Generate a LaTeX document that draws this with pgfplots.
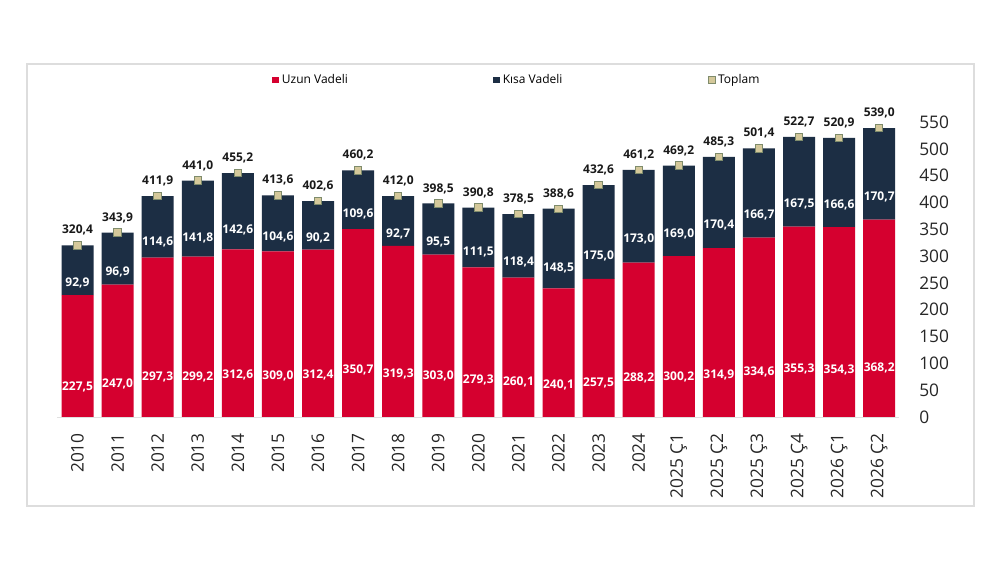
\documentclass[border=0pt]{standalone}
\usepackage{pgfplots}
\pgfplotsset{compat=1.18}
\usepackage{pgfplotstable}
\usepackage{fontspec}
\setmainfont{Open Sans}
\definecolor{uzun}{HTML}{D5002F}
\definecolor{kisa}{HTML}{1C2E44}
\definecolor{topfill}{HTML}{D4C89A}
\definecolor{topdraw}{HTML}{7F8C6C}
\definecolor{framec}{HTML}{DDDDDD}

\pgfplotstableread{
x u k t
0 227.5 92.9 320.4
1 247.0 96.9 343.9
2 297.3 114.6 411.9
3 299.2 141.8 441.0
4 312.6 142.6 455.2
5 309.0 104.6 413.6
6 312.4 90.2 402.6
7 350.7 109.6 460.2
8 319.3 92.7 412.0
9 303.0 95.5 398.5
10 279.3 111.5 390.8
11 260.1 118.4 378.5
12 240.1 148.5 388.6
13 257.5 175.0 432.6
14 288.2 173.0 461.2
15 300.2 169.0 469.2
16 314.9 170.4 485.3
17 334.6 166.7 501.4
18 355.3 167.5 522.7
19 354.3 166.6 520.9
20 368.2 170.7 539.0
}\data

\pgfplotsset{
  base/.style={
    at={(43.1pt,109.5pt)}, anchor=south west,
    scale only axis, width=631.34pt, height=241.2pt,
    xmin=-0.5, xmax=20.5, ymin=0, ymax=600,
    clip=false,
  },
  numlab/.style={
    nodes near coords={\pgfmathprintnumber[fixed, fixed zerofill, precision=1, use comma, assume math mode=true]{\pgfplotspointmeta}},
  },
}

\begin{document}
\begin{tikzpicture}
\useasboundingbox[fill=white] (0,0) rectangle (750pt,422.25pt);
\draw[framec, line width=1.2pt] (20.25pt,42.75pt) rectangle (730.5pt,374.25pt);
\begin{axis}[
  base,
  ybar stacked, bar width=24pt,
  axis x line*=bottom, axis y line*=right,
  x axis line style={draw=black!12, -},
  y axis line style={draw=none},
  xtick={0,...,20},
  xticklabels={2010,2011,2012,2013,2014,2015,2016,2017,2018,2019,2020,2021,2022,2023,2024,2025 Ç1,2025 Ç2,2025 Ç3,2025 Ç4,2026 Ç1,2026 Ç2},
  ytick={0,50,...,550},
  major tick length=0pt,
  tick style={draw=none},
  tick label style={font=\fontsize{13}{15}\selectfont, text=black!85},
  xticklabel style={rotate=90, anchor=east, inner sep=0pt},
  xticklabel shift=12pt,
  yticklabel style={anchor=west, inner sep=0pt},
  yticklabel shift=14.8pt,
  /pgf/number format/assume math mode=true,
  legend style={at={(0.2549,1.0479)}, anchor=west, draw=none, fill=none,
    legend columns=3, font=\fontsize{9}{11}\selectfont, inner sep=0pt,
    /tikz/every even column/.append style={column sep=107pt}},
  legend image code/.code={\fill[#1] (0pt,-2.6pt) rectangle (5.2pt,2.6pt);},
]
\addplot[fill=uzun, draw=none, numlab, point meta=explicit,
  visualization depends on={\thisrow{u} \as \seg},
  every node near coord/.append style={anchor=center, text=white, font=\bfseries\fontsize{9}{10}\selectfont, yshift=-0.1005*\seg*1pt}]
  table[x=x, y=u, meta=u]{\data};
\addlegendentry{Uzun Vadeli}
\addplot[fill=kisa, draw=none, numlab, point meta=explicit,
  visualization depends on={\thisrow{k} \as \seg},
  every node near coord/.append style={anchor=center, text=white, font=\bfseries\fontsize{9}{10}\selectfont, yshift=-0.1005*\seg*1pt}]
  table[x=x, y=k, meta=k]{\data};
\addlegendentry{Kısa Vadeli}
\addlegendimage{legend image code/.code={\draw[fill=topfill, draw=topdraw, line width=0.6pt] (0pt,-2.6pt) rectangle (5.2pt,2.6pt);}}
\addlegendentry{Toplam}
\end{axis}
\begin{axis}[base, hide axis]
\addplot[only marks, mark=square*, mark size=2.8pt,
  mark options={fill=topfill, draw=topdraw, line width=0.7pt},
  numlab, point meta=explicit,
  every node near coord/.append style={anchor=south, inner sep=0pt, yshift=7pt, text=black!90, font=\bfseries\fontsize{9}{10}\selectfont}]
  table[x=x, y=t, meta=t]{\data};
\end{axis}
\end{tikzpicture}
\end{document}
